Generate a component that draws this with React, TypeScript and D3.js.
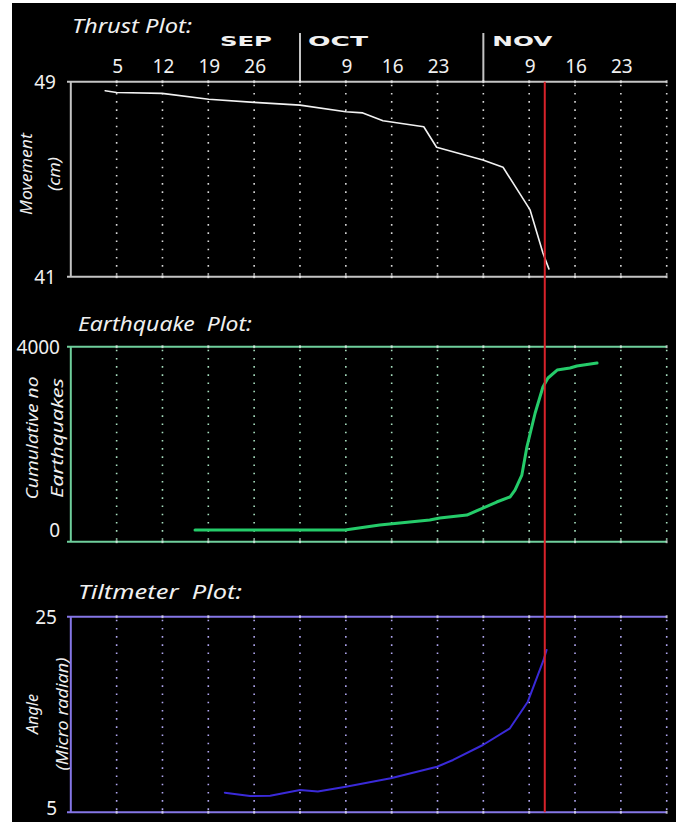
import React from 'react';
import * as d3 from 'd3';

// x is measured in weekly grid slots: 0 = left axis, 1..13 = dotted grid lines
const daySlots = [1, 2, 3, 4, 5, 6, 7, 8, 9, 10, 11, 12, 13];
const dayLabels = ['5', '12', '19', '26', '', '9', '16', '23', '', '9', '16', '23', ''];
const monthNames = ['SEP', 'OCT', 'NOV'];
const monthCenters = [3.82, 5.83, 9.85];
const monthBreaks = [5, 9];
const eventSlot = 10.34;

const thrustX = [0.75, 1.0, 1.99, 3.01, 4.0, 5.0, 6.0, 6.37, 6.81, 7.7, 7.98, 8.99, 9.43, 10.02, 10.3, 10.43];
const thrustY = [48.63, 48.56, 48.52, 48.28, 48.15, 48.04, 47.77, 47.72, 47.4, 47.15, 46.31, 45.79, 45.49, 43.74, 41.97, 41.32];

const quakeX = [2.71, 4.0, 5.0, 5.98, 6.74, 7.83, 8.05, 8.64, 8.99, 9.29, 9.58, 9.69, 9.84, 9.95, 10.13, 10.3, 10.41, 10.61, 10.89, 11.04, 11.48];
const quakeY = [0, 0, 0, 0, 109, 218, 262, 327, 480, 611, 720, 873, 1200, 1811, 2553, 3120, 3317, 3491, 3535, 3579, 3644];

const tiltX = [3.36, 3.91, 4.35, 5.0, 5.39, 6.0, 6.98, 7.99, 8.34, 8.99, 9.58, 9.97, 10.3, 10.38];
const tiltY = [7.0, 6.67, 6.7, 7.28, 7.13, 7.62, 8.48, 9.66, 10.35, 11.88, 13.59, 16.31, 20.4, 21.6];

const thrustTicks = [41, 49];
const quakeTicks = [0, 4000];
const tiltTicks = [5, 25];

const W = 676;
const H = 822;
const FONT = "'Noto Sans', 'DejaVu Sans', sans-serif";

const x = d3.scaleLinear().domain([0, 13]).range([70.8, 666.7]);

type Panel = {
  title: string;
  titleX: number;
  titleY: number;
  titleLen: number;
  yTitles: string[];
  yTitleX: number[];
  yTitleLen: number[];
  yMid: number;
  y: d3.ScaleLinear<number, number>;
  ticks: number[];
  tickX: number;
  xs: number[];
  ys: number[];
  axis: string;
  grid: string;
  line: string;
  lineW: number;
};

const panels: Panel[] = [
  {
    title: 'Thrust Plot:', titleX: 72, titleY: 33, titleLen: 120,
    yTitles: ['Movement', '(cm)'], yTitleX: [25.5, 53.5], yTitleLen: [82, 34], yMid: 174,
    y: d3.scaleLinear().domain([41, 49]).range([276.7, 81.7]),
    ticks: thrustTicks, tickX: 56,
    xs: thrustX, ys: thrustY,
    axis: '#c4c4c4', grid: '#d8d8d8', line: '#f2f2f2', lineW: 1.6,
  },
  {
    title: 'Earthquake\u00a0\u00a0Plot:', titleX: 78, titleY: 331, titleLen: 174,
    yTitles: ['Cumulative no', 'Earthquakes'], yTitleX: [31.5, 56.5], yTitleLen: [123, 120], yMid: 438,
    y: d3.scaleLinear().domain([-255, 4000]).range([541.7, 346.7]),
    ticks: quakeTicks, tickX: 60,
    xs: quakeX, ys: quakeY,
    axis: '#6fcf9c', grid: '#a8e0c0', line: '#25cc6a', lineW: 3,
  },
  {
    title: 'Tiltmeter\u00a0\u00a0Plot:', titleX: 78, titleY: 599, titleLen: 164,
    yTitles: ['Angle', '(Micro radian)'], yTitleX: [31.5, 61.5], yTitleLen: [40, 113], yMid: 714,
    y: d3.scaleLinear().domain([5, 25]).range([812.3, 616.7]),
    ticks: tiltTicks, tickX: 57,
    xs: tiltX, ys: tiltY,
    axis: '#8576e6', grid: '#b0a6f0', line: '#3a2ad8', lineW: 2,
  },
];

function PanelView({ p }: { p: Panel }) {
  const [y0, y1] = p.y.range();
  const line = d3.line<number>()
    .x((_, i) => x(p.xs[i]))
    .y((d) => p.y(d));
  return (
    <g>
      <text x={p.titleX} y={p.titleY} fill="#f0f0f0" fontFamily={FONT} fontStyle="italic"
        fontSize={20} textLength={p.titleLen} lengthAdjust="spacingAndGlyphs">{p.title}</text>
      {p.yTitles.map((t, i) => (
        <text key={t} transform={`translate(${p.yTitleX[i]},${p.yMid}) rotate(-90)`}
          textAnchor="middle" dominantBaseline="central" fill="#eeeeee" fontFamily={FONT}
          fontStyle="italic" fontSize={16} textLength={p.yTitleLen[i]} lengthAdjust="spacingAndGlyphs">{t}</text>
      ))}
      {daySlots.map((s) => (
        <line key={s} x1={x(s)} x2={x(s)} y1={y1 + 3} y2={y0 - 2} stroke={p.grid}
          strokeWidth={1.6} strokeDasharray="1.6 6.6" />
      ))}
      <line x1={67} x2={x(13)} y1={y1} y2={y1} stroke={p.axis} strokeWidth={2} />
      <line x1={67} x2={x(13)} y1={y0} y2={y0} stroke={p.axis} strokeWidth={2} />
      <line x1={x(0)} x2={x(0)} y1={y1} y2={y0} stroke={p.axis} strokeWidth={2} />
      {daySlots.map((s) => (
        <g key={'t' + s}>
          <rect x={x(s) - 1} y={y1 - 1.5} width={2} height={3} fill="#ffffff" opacity={0.6} />
          <rect x={x(s) - 1} y={y0 - 1.5} width={2} height={3} fill="#ffffff" opacity={0.6} />
        </g>
      ))}
      {p.ticks.map((t) => (
        <text key={t} x={p.tickX} y={Math.min(p.y(t), 808)} textAnchor="end" dominantBaseline="central"
          fill="#f0f0f0" fontFamily={FONT} fontSize={19}>{t}</text>
      ))}
      <path d={line(p.ys) || ''} fill="none" stroke={p.line} strokeWidth={p.lineW}
        strokeLinejoin="round" strokeLinecap="round" />
    </g>
  );
}

export default function App() {
  const top = panels[0].y.range()[1];
  const bottom = panels[2].y.range()[0];
  return (
    <div style={{ position: 'absolute', left: 0, top: 0 }}>
      <svg width={W} height={H} style={{ display: 'block' }}>
        <rect x={0} y={0} width={W} height={H} fill="#ffffff" />
        <rect x={12} y={3} width={W - 12} height={H - 3} fill="#000000" />
        {monthBreaks.map((m) => (
          <line key={m} x1={x(m)} x2={x(m)} y1={33} y2={top} stroke="#c4c4c4" strokeWidth={2} />
        ))}
        {monthNames.map((m, i) => (
          <text key={m} x={x(monthCenters[i])} y={46} textAnchor="middle" fill="#f0f0f0"
            fontFamily="'DejaVu Sans', sans-serif" fontWeight="bold" fontSize={14}
            textLength={m === 'SEP' ? 52 : 60} lengthAdjust="spacingAndGlyphs">{m}</text>
        ))}
        {daySlots.map((s, i) => (
          <text key={s} x={x(s) + 1} y={73} textAnchor="middle" fill="#f0f0f0"
            fontFamily={FONT} fontSize={19}>{dayLabels[i]}</text>
        ))}
        {panels.map((p) => <PanelView key={p.title} p={p} />)}
        <line x1={x(eventSlot)} x2={x(eventSlot)} y1={top} y2={bottom} stroke="#d8222a" strokeWidth={2} />
      </svg>
    </div>
  );
}
